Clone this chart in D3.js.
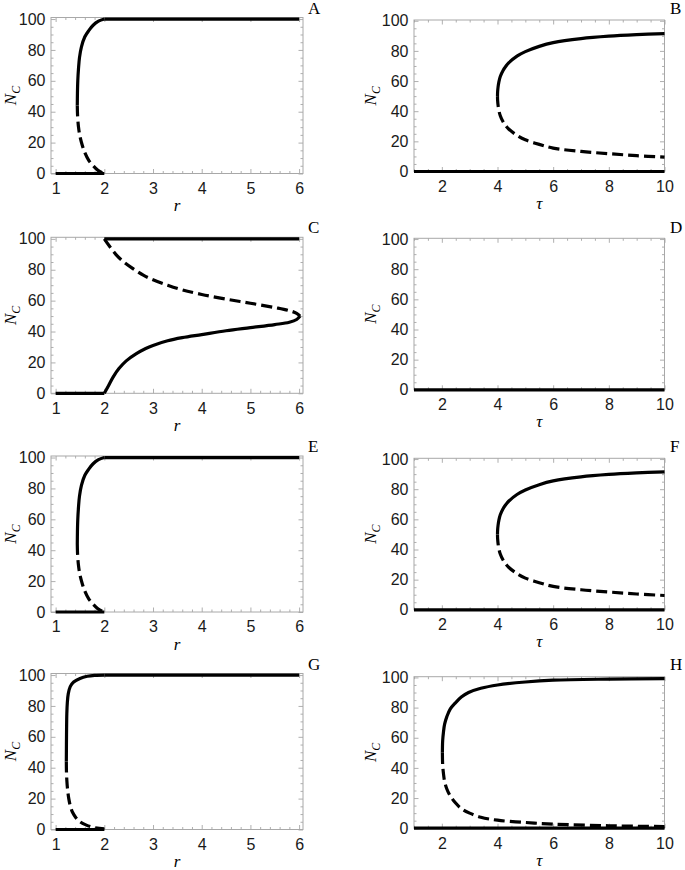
<!DOCTYPE html>
<html lang="en">
<head>
<meta charset="UTF-8"/>
<title>Bifurcation panels</title>
<style>
    body { margin: 0; background: #fff; }
    .tick line { stroke: #9a9a9a; stroke-width: 0.8; }
    .tick text { font-family: "Liberation Sans", Arial, sans-serif; font-size: 16px; fill: #1a1a1a; }
    .frame { fill: none; stroke: #a8a8a8; stroke-width: 1; }
    .branch { fill: none; stroke: #000; stroke-width: 3.2; }
    .unstable { stroke-dasharray: 11, 5; }
    .serif { font-family: "Liberation Serif", "Times New Roman", serif; fill: #000; }
</style>
</head>
<body>
<svg id="chart" width="685" height="870"></svg>

<script src="https://d3js.org/d3.v7.min.js"></script>
<script type="text/javascript">

    // tick values
    var rTicks = [1, 2, 3, 4, 5, 6];
    var tauTicks = [2, 4, 6, 8, 10];
    var nTicks = [0, 20, 40, 60, 80, 100];

    // panel A  (N_C vs r)
    var zeroA = [[1, 0], [2, 0]];
    var topA = [[2, 100], [6, 100]];
    var stableA = [[1.445, 44], [1.448, 52], [1.455, 60], [1.47, 68], [1.49, 75], [1.53, 82], [1.6, 88.5],
        [1.68, 92.5], [1.77, 96], [1.88, 98.6], [2, 100]];
    var unstableA = [[1.445, 44], [1.45, 38], [1.47, 30], [1.5, 24], [1.55, 18], [1.6, 13.5], [1.68, 8.5],
        [1.77, 5], [1.87, 2], [2, 0]];

    // panel B  (N_C vs tau)
    var zeroB = [[1, 0], [10, 0]];
    var stableB = [[4, 50], [4.005, 53], [4.02, 56], [4.05, 59.5], [4.1, 63], [4.2, 67], [4.3, 69.8],
        [4.4, 72], [4.7, 76.5], [5, 79.5], [5.5, 83], [6, 85.5], [7, 88.2], [8, 89.8], [9, 90.8], [10, 91.5]];
    var unstableB = [[4, 50], [4.005, 47], [4.02, 44], [4.05, 40.5], [4.1, 37], [4.2, 33], [4.3, 30.3],
        [4.4, 28.2], [4.7, 24], [5, 21], [5.5, 18], [6, 15.5], [7, 13.3], [8, 11.8], [9, 10.5], [10, 9.5]];

    // panel C
    var zeroC = [[1, 0], [2, 0]];
    var topC = [[2, 100], [6, 100]];
    var stableC = [[2, 0], [2.08, 4.5], [2.18, 10.5], [2.3, 16], [2.45, 21], [2.65, 25.5], [2.85, 29],
        [3, 31], [3.3, 34], [3.6, 36], [4, 38], [4.5, 40.5], [5, 42.5], [5.5, 44.5], [5.8, 46],
        [5.95, 47.8], [6.02, 50]];
    var unstableC = [[2, 100], [2.1, 95.5], [2.25, 89.5], [2.4, 85], [2.6, 80.5], [2.8, 76.5], [3, 73.5],
        [3.3, 70], [3.6, 67], [4, 64], [4.5, 61], [5, 58.3], [5.5, 55.5], [5.8, 53.5], [5.95, 51.8],
        [6.02, 50]];

    // panel D
    var zeroD = [[1, 0], [10, 0]];

    // panel E
    var zeroE = [[1, 0], [2, 0]];
    var topE = [[2, 100], [6, 100]];
    var stableE = [[1.445, 44], [1.448, 52], [1.455, 60], [1.47, 68], [1.49, 75], [1.53, 82], [1.6, 88.5],
        [1.68, 92.5], [1.77, 96], [1.88, 98.6], [2, 100]];
    var unstableE = [[1.445, 44], [1.45, 38], [1.47, 30], [1.5, 24], [1.55, 18], [1.6, 13.5], [1.68, 8.5],
        [1.77, 5], [1.87, 2], [2, 0]];

    // panel F
    var zeroF = [[1, 0], [10, 0]];
    var stableF = [[4, 50], [4.005, 53], [4.02, 56], [4.05, 59.5], [4.1, 63], [4.2, 67], [4.3, 69.8],
        [4.4, 72], [4.7, 76.5], [5, 79.5], [5.5, 83], [6, 85.5], [7, 88.2], [8, 89.8], [9, 90.8], [10, 91.5]];
    var unstableF = [[4, 50], [4.005, 47], [4.02, 44], [4.05, 40.5], [4.1, 37], [4.2, 33], [4.3, 30.3],
        [4.4, 28.2], [4.7, 24], [5, 21], [5.5, 18], [6, 15.5], [7, 13.3], [8, 11.8], [9, 10.5], [10, 9.5]];

    // panel G
    var zeroG = [[1, 0], [2, 0]];
    var topG = [[2, 100], [6, 100]];
    var stableG = [[1.22, 44], [1.222, 55], [1.225, 65], [1.23, 75], [1.24, 82], [1.26, 88], [1.3, 92.5],
        [1.37, 95.5], [1.5, 97.8], [1.65, 99.2], [1.8, 99.8], [2, 100]];
    var unstableG = [[1.22, 44], [1.222, 38], [1.23, 32], [1.245, 26], [1.27, 20], [1.3, 15.5], [1.35, 11],
        [1.42, 7.5], [1.5, 5], [1.62, 3], [1.77, 1.4], [2, 0.4]];

    // panel H
    var zeroH = [[1, 0], [10, 0]];
    var stableH = [[2.02, 50], [2.03, 58], [2.06, 64], [2.1, 69], [2.18, 74], [2.3, 79], [2.48, 83],
        [2.7, 87], [2.96, 90], [3.4, 92.8], [4, 95], [5, 97], [6, 98.2], [8, 98.9], [10, 99.2]];
    var unstableH = [[2.02, 50], [2.03, 42], [2.06, 36], [2.1, 31], [2.18, 26], [2.3, 21.5], [2.48, 17],
        [2.7, 13], [3, 10], [3.4, 7.3], [4, 5.3], [5, 3.8], [6, 2.7], [8, 1.6], [10, 1.1]];

    var svg = d3.select("#chart");

    // column geometry (left: r axis, right: tau axis)
    var cols = {
        r:   { left: 51, right: 303, height: 156, xDomain: [0.905, 6.08], yTop: 101, ticks: rTicks,
               minor: d3.range(1, 6.01, 0.2), label: "r", ylabX: 35, tops: [17.5, 237.3, 456, 673.5] },
        tau: { left: 414, right: 664.5, height: 151.5, xDomain: [1, 10], yTop: 100.5, ticks: tauTicks,
               minor: d3.range(1, 10.01, 0.5), label: "\u03C4", ylabX: 38, tops: [20, 238.3, 458.3, 676.7] }
    };
    var letterX = { r: 308, tau: 670 };
    var leftTops = cols.r.tops;

    var panels = [
        { id: "A", col: "r", row: 0, solid: [zeroA, topA, stableA], dashed: [unstableA] },
        { id: "B", col: "tau", row: 0, solid: [zeroB, stableB], dashed: [unstableB] },
        { id: "C", col: "r", row: 1, solid: [zeroC, topC, stableC], dashed: [unstableC] },
        { id: "D", col: "tau", row: 1, solid: [zeroD], dashed: [] },
        { id: "E", col: "r", row: 2, solid: [zeroE, topE, stableE], dashed: [unstableE] },
        { id: "F", col: "tau", row: 2, solid: [zeroF, stableF], dashed: [unstableF] },
        { id: "G", col: "r", row: 3, solid: [zeroG, topG, stableG], dashed: [unstableG] },
        { id: "H", col: "tau", row: 3, solid: [zeroH, stableH], dashed: [unstableH] }
    ];

    var majorLen = 4.5, minorLen = 2.5;

    panels.forEach(function (p) {
        var c = cols[p.col];
        var top = c.tops[p.row], bottom = top + c.height;

        var x = d3.scaleLinear().domain(c.xDomain).range([c.left, c.right]);
        var y = d3.scaleLinear().domain([0, c.yTop]).range([bottom, top]);

        var g = svg.append("g");

        var minorX = c.minor.filter(function (v) { return c.ticks.indexOf(Math.round(v * 100) / 100) < 0; });
        var minorY = d3.range(0, 101, 5).filter(function (v) { return v % 20 !== 0; });

        // bottom axis with labels
        var bx = g.append("g").attr("transform", "translate(0," + bottom + ")")
            .call(d3.axisBottom(x).tickValues(c.ticks).tickSize(-majorLen).tickPadding(9).tickFormat(d3.format("d")));
        bx.selectAll("text").attr("dy", "0.71em");
        g.append("g").attr("transform", "translate(0," + bottom + ")")
            .call(d3.axisBottom(x).tickValues(minorX).tickSize(-minorLen).tickFormat(""));
        // top axis, ticks only
        g.append("g").attr("transform", "translate(0," + top + ")")
            .call(d3.axisTop(x).tickValues(c.ticks).tickSize(-majorLen).tickFormat(""));
        g.append("g").attr("transform", "translate(0," + top + ")")
            .call(d3.axisTop(x).tickValues(minorX).tickSize(-minorLen).tickFormat(""));
        // left axis with labels
        g.append("g").attr("transform", "translate(" + c.left + ",0)")
            .call(d3.axisLeft(y).tickValues(nTicks).tickSize(-majorLen).tickPadding(5.5).tickFormat(d3.format("d")));
        g.append("g").attr("transform", "translate(" + c.left + ",0)")
            .call(d3.axisLeft(y).tickValues(minorY).tickSize(-minorLen).tickFormat(""));
        // right axis, ticks only
        g.append("g").attr("transform", "translate(" + c.right + ",0)")
            .call(d3.axisRight(y).tickValues(nTicks).tickSize(-majorLen).tickFormat(""));
        g.append("g").attr("transform", "translate(" + c.right + ",0)")
            .call(d3.axisRight(y).tickValues(minorY).tickSize(-minorLen).tickFormat(""));

        g.selectAll(".domain").remove();

        g.append("rect").attr("class", "frame")
            .attr("x", c.left).attr("y", top)
            .attr("width", c.right - c.left).attr("height", bottom - top);

        var line = d3.line()
            .x(function (d) { return x(d[0]); })
            .y(function (d) { return y(d[1]); })
            .curve(d3.curveCatmullRom.alpha(0.5));

        p.dashed.forEach(function (b) {
            g.append("path").attr("class", "branch unstable").attr("d", line(b));
        });
        p.solid.forEach(function (b) {
            g.append("path").attr("class", "branch").attr("d", line(b));
        });

        // x axis label
        g.append("text").attr("class", "serif")
            .attr("x", (c.left + c.right) / 2).attr("y", bottom + 37.5)
            .attr("text-anchor", "middle")
            .style("font-size", "17px").style("font-style", "italic")
            .text(c.label);

        // y axis label N_C
        var yl = g.append("text").attr("class", "serif")
            .attr("transform", "translate(" + (c.left - c.ylabX) + "," + ((top + bottom) / 2) + ") rotate(-90)")
            .attr("text-anchor", "middle")
            .style("font-size", "17px").style("font-style", "italic");
        yl.append("tspan").text("N");
        yl.append("tspan").attr("dy", "0.3em").style("font-size", "12px").text("C");

        // panel letter
        g.append("text").attr("class", "serif")
            .attr("x", letterX[p.col]).attr("y", leftTops[p.row] - 4)
            .style("font-size", "17px")
            .text(p.id);
    });
</script>
</body>
</html>
